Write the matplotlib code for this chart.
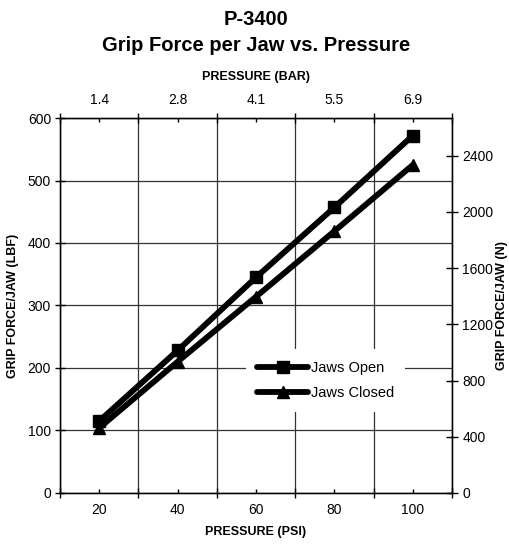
import matplotlib
matplotlib.use("Agg")
import matplotlib.pyplot as plt

plt.rcParams['font.family'] = ['Liberation Sans', 'DejaVu Sans']

psi = [20, 40, 60, 80, 100]
bar_labels = ["1.4", "2.8", "4.1", "5.5", "6.9"]
jaws_open = [115, 228, 345, 457, 572]
jaws_closed = [104, 210, 314, 419, 525]
lbf_to_n = 4.448

fig = plt.figure(figsize=(5.09, 5.44), dpi=100)
ax = fig.add_axes([0.118, 0.094, 0.770, 0.689])

ax.plot(psi, jaws_open, color='black', lw=4.2, marker='s', ms=8, label='Jaws Open', solid_capstyle='round')
ax.plot(psi, jaws_closed, color='black', lw=4.2, marker='^', ms=8.5, label='Jaws Closed', solid_capstyle='round')

ax.set_xlim(10, 110)
ax.set_ylim(0, 600)
ax.set_xticks([10, 30, 50, 70, 90, 110])
ax.set_xticklabels([])
ax.set_xticks(psi, [str(p) for p in psi], minor=True)
ax.set_yticks(range(0, 601, 100))
ax.tick_params(axis='x', which='major', direction='inout', length=7, width=1, colors='black')
ax.tick_params(axis='x', which='minor', direction='in', length=3, width=1, labelsize=10, pad=7)
ax.tick_params(axis='y', which='major', direction='inout', length=7, width=1, labelsize=10, pad=3)
ax.grid(True, which='major', color='#333333', lw=0.9)
ax.set_axisbelow(True)
for s in ax.spines.values():
    s.set_linewidth(1)
ax.set_xlabel('PRESSURE (PSI)', fontsize=9, fontweight='bold', labelpad=7)
ax.set_ylabel('GRIP FORCE/JAW (LBF)', fontsize=9, fontweight='bold', labelpad=6)

# Right axis (N)
axr = ax.twinx()
axr.set_ylim(0, 600 * lbf_to_n)
axr.set_yticks(range(0, 2401, 400))
axr.tick_params(axis='y', direction='inout', length=9, width=1, labelsize=10, pad=3)
axr.set_ylabel('GRIP FORCE/JAW (N)', fontsize=9, fontweight='bold', labelpad=2)

# Top axis (bar)
axt = ax.twiny()
axt.set_xlim(10, 110)
axt.set_xticks([10, 30, 50, 70, 90, 110])
axt.set_xticklabels([])
axt.set_xticks(psi, bar_labels, minor=True)
axt.tick_params(axis='x', which='major', direction='inout', length=7, width=1)
axt.tick_params(axis='x', which='minor', direction='in', length=3, width=1, labelsize=10, pad=8)
axt.set_xlabel('PRESSURE (BAR)', fontsize=9, fontweight='bold', labelpad=9)

leg = ax.legend(loc='center left', bbox_to_anchor=(0.455, 0.30), frameon=True, fancybox=False,
                edgecolor='none', facecolor='white', framealpha=1, fontsize=10.5,
                handlelength=3.5, handletextpad=0.15, borderpad=0.8, labelspacing=0.75)

fig.text(0.503, 0.965, 'P-3400', ha='center', va='center', fontsize=14.5, fontweight='bold')
fig.text(0.503, 0.916, 'Grip Force per Jaw vs. Pressure', ha='center', va='center', fontsize=14.5, fontweight='bold')

fig.savefig('out.png', dpi=100)
